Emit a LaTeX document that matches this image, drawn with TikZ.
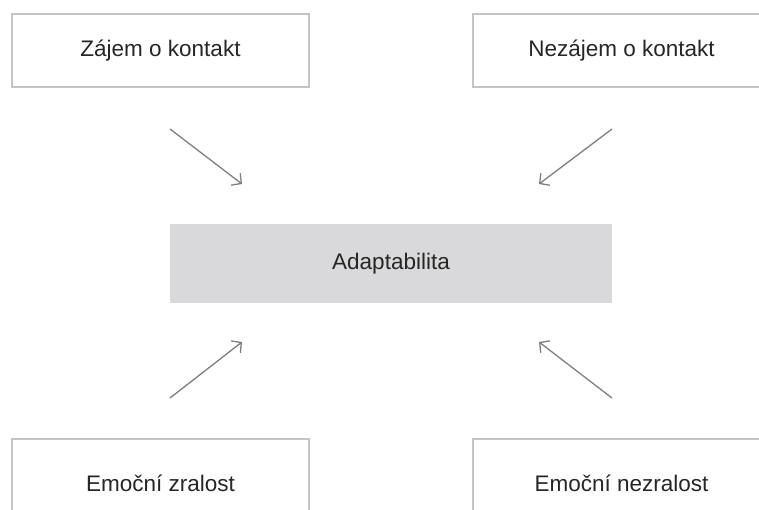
\documentclass[tikz,border=0pt]{standalone}
\usepackage{fontspec}
\setmainfont{Liberation Sans}
\usetikzlibrary{arrows.meta}
\definecolor{boxline}{HTML}{C4C4C4}
\definecolor{centerfill}{HTML}{D9D9DB}
\definecolor{arrowgray}{HTML}{7F7F7F}
\tikzset{
  factor/.style={draw=boxline, line width=1.6pt, fill=white, minimum width=297pt, inner sep=0pt,
    font=\fontsize{22.5}{26}\selectfont, text=black!85},
  centerbox/.style={fill=centerfill, draw=none, minimum width=442pt, minimum height=79pt, inner sep=0pt,
    font=\fontsize{22.5}{26}\selectfont, text=black!85},
  influence/.style={draw=arrowgray, line width=1.3pt, -{Straight Barb[length=7pt,width=15pt,line width=1.3pt]}}
}
\begin{document}
\begin{tikzpicture}[x=1pt,y=-1pt]
\useasboundingbox (0,0) rectangle (759,509);
\clip (0,0) rectangle (759,509);
\node[factor, minimum height=73pt] (tl) at (160.5,50.5) {Zájem o kontakt};
\node[factor, minimum height=73pt] (tr) at (621.5,50.5) {Nezájem o kontakt};
\node[factor, minimum height=88pt] (bl) at (160.5,483) {Emoční zralost};
\node[factor, minimum height=88pt] (br) at (621.5,483) {Emoční nezralost};
\node[centerbox] (c) at (391,263.5) {Adaptabilita};
\coordinate (a1s) at (170,129);
\coordinate (a1e) at (242,184);
\coordinate (a2s) at (612,129);
\coordinate (a2e) at (539,184);
\coordinate (a3s) at (170,398);
\coordinate (a3e) at (242,342);
\coordinate (a4s) at (612,398);
\coordinate (a4e) at (539,342);
\draw[influence] (a1s) -- (a1e);
\draw[influence] (a2s) -- (a2e);
\draw[influence] (a3s) -- (a3e);
\draw[influence] (a4s) -- (a4e);
\end{tikzpicture}
\end{document}
